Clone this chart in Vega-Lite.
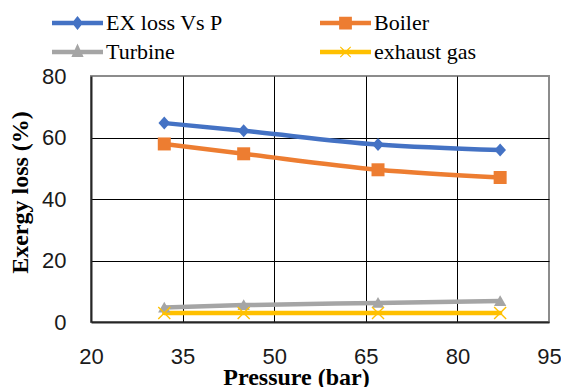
{
  "$schema": "https://vega.github.io/schema/vega-lite/v6.json",
  "width": 458,
  "height": 246,
  "autosize": {"type": "none"},
  "padding": {"left": 91, "top": 76, "right": 12, "bottom": 65},
  "background": "white",
  "config": {
    "view": {"stroke": "#8c8c8c", "strokeWidth": 2},
    "axis": {
      "labelFont": "Liberation Sans",
      "labelFontSize": 22,
      "labelColor": "#1a1a1a",
      "titleFont": "Liberation Serif",
      "titleFontSize": 24,
      "titleFontWeight": "bold",
      "titleColor": "#000000",
      "ticks": false,
      "domainColor": "#262626",
      "domainWidth": 2,
      "gridWidth": 1
    }
  },
  "data": {
    "values": [
      {"P": 32, "series": "EX loss Vs P", "loss": 64.7},
      {"P": 45, "series": "EX loss Vs P", "loss": 62.2},
      {"P": 67, "series": "EX loss Vs P", "loss": 57.7},
      {"P": 87, "series": "EX loss Vs P", "loss": 55.9},
      {"P": 32, "series": "Boiler", "loss": 57.9},
      {"P": 45, "series": "Boiler", "loss": 54.7},
      {"P": 67, "series": "Boiler", "loss": 49.5},
      {"P": 87, "series": "Boiler", "loss": 47.0},
      {"P": 32, "series": "Turbine", "loss": 4.7},
      {"P": 45, "series": "Turbine", "loss": 5.5},
      {"P": 67, "series": "Turbine", "loss": 6.2},
      {"P": 87, "series": "Turbine", "loss": 6.8},
      {"P": 32, "series": "exhaust gas", "loss": 2.9},
      {"P": 45, "series": "exhaust gas", "loss": 2.9},
      {"P": 67, "series": "exhaust gas", "loss": 2.9},
      {"P": 87, "series": "exhaust gas", "loss": 2.9}
    ]
  },
  "encoding": {
    "x": {
      "field": "P",
      "type": "quantitative",
      "scale": {"domain": [20, 95], "nice": false, "zero": false},
      "axis": {
        "values": [20, 35, 50, 65, 80, 95],
        "title": "Pressure (bar)",
        "labelPadding": 24,
        "labelFlush": false,
        "gridColor": {"condition": {"test": "datum.value === 95 || datum.value === 20", "value": "transparent"}, "value": "#000000"},
        "titleX": 205,
        "titleY": 62,
        "titleBaseline": "alphabetic",
        "titleAlign": "center"
      }
    },
    "y": {
      "field": "loss",
      "type": "quantitative",
      "scale": {"domain": [0, 80], "nice": false},
      "axis": {
        "values": [0, 20, 40, 60, 80],
        "title": "Exergy loss  (%)",
        "labelPadding": 25,
        "labelFlush": false,
        "gridColor": {"condition": {"test": "datum.value === 80 || datum.value === 0", "value": "transparent"}, "value": "#000000"},
        "titleX": -64,
        "titleY": 116,
        "titleBaseline": "alphabetic",
        "titleAlign": "center"
      }
    },
    "color": {
      "field": "series",
      "type": "nominal",
      "scale": {
        "domain": ["EX loss Vs P", "Boiler", "Turbine", "exhaust gas"],
        "range": ["#4472C4", "#ED7D31", "#A5A5A5", "#FFC000"]
      },
      "legend": {
        "title": null,
        "orient": "none",
        "legendX": -39,
        "legendY": -64,
        "columns": 2,
        "direction": "horizontal",
        "symbolSize": 400,
        "clipHeight": 22,
        "labelFont": "Liberation Serif",
        "labelFontSize": 22,
        "labelColor": "#000000",
        "labelOffset": 3,
        "labelLimit": 300,
        "rowPadding": 7,
        "columnPadding": 97,
        "encode": {
          "symbols": {
            "update": {
              "size": {"value": 2601},
              "fill": {"scale": "color", "field": "value"},
              "fillOpacity": {"value": 1},
              "stroke": {"value": "transparent"},
              "strokeWidth": {"value": 0},
              "shape": {"signal": "datum.value === 'EX loss Vs P' ? 'M-1,-0.085H1V0.085H-1Z M0,-0.27L0.22,0L0,0.27L-0.22,0Z' : datum.value === 'Boiler' ? 'M-1,-0.085H1V0.085H-1Z M-0.25,-0.25H0.25V0.25H-0.25Z' : datum.value === 'Turbine' ? 'M-1,-0.085H1V0.085H-1Z M0,-0.33L0.24,0.2H-0.24Z' : 'M-1,-0.085H1V0.085H-1Z M-0.22,-0.19L-0.19,-0.22L0,-0.035L0.19,-0.22L0.22,-0.19L0.035,0L0.22,0.19L0.19,0.22L0,0.035L-0.19,0.22L-0.22,0.19L-0.035,0Z'"}
            }
          }
        }
      }
    }
  },
  "layer": [
    {
      "mark": {"type": "line", "strokeWidth": 4.5, "interpolate": "monotone", "strokeCap": "round"}
    },
    {
      "transform": [{"filter": "datum.series === 'EX loss Vs P'"}],
      "mark": {"type": "point", "filled": true, "opacity": 1, "size": 169, "shape": "M0,-1L0.9,0L0,1L-0.9,0Z"}
    },
    {
      "transform": [{"filter": "datum.series === 'Boiler'"}],
      "mark": {"type": "point", "filled": true, "opacity": 1, "size": 169, "shape": "M-1,-1H1V1H-1Z"}
    },
    {
      "transform": [{"filter": "datum.series === 'Turbine'"}],
      "mark": {"type": "point", "filled": true, "opacity": 1, "size": 169, "shape": "M0,-0.9L0.95,0.75H-0.95Z"}
    },
    {
      "transform": [{"filter": "datum.series === 'exhaust gas'"}],
      "mark": {"type": "point", "filled": true, "opacity": 1, "size": 169, "shape": "M-1,-0.85L-0.85,-1L0,-0.15L0.85,-1L1,-0.85L0.15,0L1,0.85L0.85,1L0,0.15L-0.85,1L-1,0.85L-0.15,0Z"}
    }
  ]
}
